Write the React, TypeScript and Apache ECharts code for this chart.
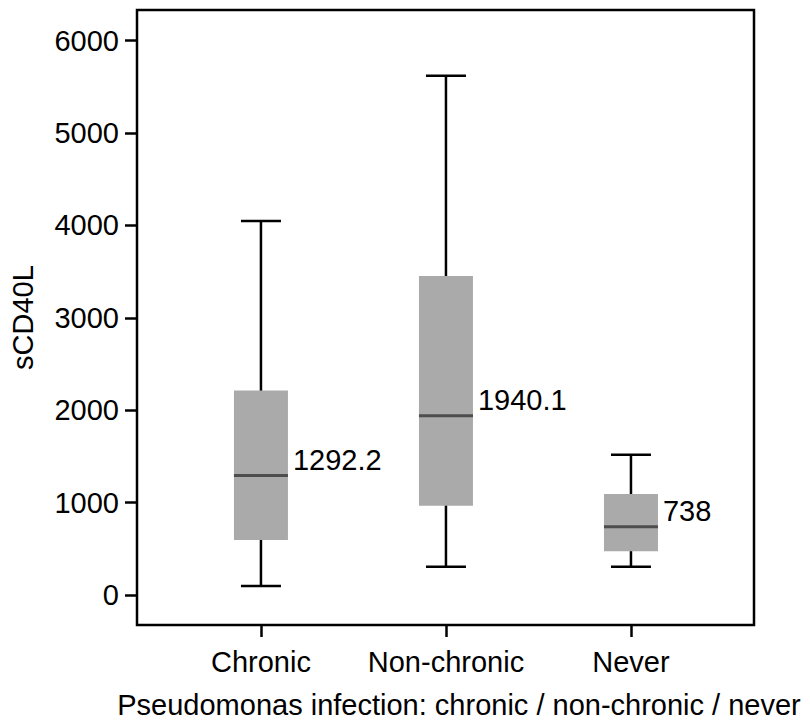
import React, { useEffect, useRef } from "react";
import * as echarts from "echarts";

const categories = ["Chronic", "Non-chronic", "Never"];
const whiskerLow = [97, 306, 306];
const quartile1 = [595, 967, 473];
const medians = [1292.2, 1940.1, 738];
const quartile3 = [2212, 3453, 1093];
const whiskerHigh = [4048, 5621, 1519];
const yTicks = [0, 1000, 2000, 3000, 4000, 5000, 6000];
const xTicks = [0, 1, 2];

const FONT = "'Liberation Sans', Arial, Helvetica, sans-serif";

export default function App() {
  const ref = useRef<HTMLDivElement>(null);
  useEffect(() => {
    if (!ref.current) return;
    const chart = echarts.init(ref.current, null, { renderer: "svg" });
    const data = categories.map((_, i) => [
      i,
      whiskerLow[i],
      quartile1[i],
      medians[i],
      quartile3[i],
      whiskerHigh[i],
    ]);
    const BOX = 54;
    const CAP = 40;
    chart.setOption({
      animation: false,
      backgroundColor: "#ffffff",
      textStyle: { fontFamily: FONT },
      grid: {
        left: 137,
        top: 10,
        right: 56,
        bottom: 99,
        show: true,
        borderColor: "#000",
        borderWidth: 2.5,
        backgroundColor: "transparent",
      },
      xAxis: {
        type: "value",
        position: "bottom",
        min: -0.67,
        max: 2.665,
        splitLine: { show: false },
        axisLine: { show: false, onZero: false },
        axisTick: {
          show: true,
          customValues: xTicks,
          length: 12,
          lineStyle: { color: "#000", width: 2.5 },
        },
        axisLabel: {
          customValues: xTicks,
          formatter: (v: number) => categories[Math.round(v)] ?? "",
          fontSize: 29,
          color: "#000",
          margin: 22,
          fontFamily: FONT,
        },
        name: "Pseudomonas infection: chronic / non-chronic / never",
        nameLocation: "middle",
        nameGap: 65,
        nameTextStyle: {
          fontSize: 29,
          color: "#000",
          fontFamily: FONT,
          padding: [0, 0, 0, 27],
        },
      },
      yAxis: {
        type: "value",
        position: "left",
        min: -325,
        max: 6332,
        splitLine: { show: false },
        axisLine: { show: false, onZero: false },
        axisTick: {
          show: true,
          customValues: yTicks,
          length: 12,
          lineStyle: { color: "#000", width: 2.5 },
        },
        axisLabel: {
          customValues: yTicks,
          formatter: (v: number) => String(v),
          fontSize: 29,
          color: "#000",
          margin: 18,
          fontFamily: FONT,
        },
        name: "sCD40L",
        nameLocation: "middle",
        nameRotate: 90,
        nameGap: 100,
        nameTextStyle: { fontSize: 29, color: "#000", fontFamily: FONT },
      },
      series: [
        {
          type: "custom",
          clip: false,
          data,
          encode: { x: 0, y: [1, 2, 3, 4, 5] },
          renderItem: (params: any, api: any) => {
            const i = api.value(0);
            const lo = api.coord([i, api.value(1)]);
            const q1 = api.coord([i, api.value(2)]);
            const md = api.coord([i, api.value(3)]);
            const q3 = api.coord([i, api.value(4)]);
            const hi = api.coord([i, api.value(5)]);
            const cx = lo[0];
            const lineStyle = { stroke: "#000", lineWidth: 2.5 };
            return {
              type: "group",
              children: [
                {
                  type: "line",
                  shape: { x1: cx, y1: lo[1], x2: cx, y2: hi[1] },
                  style: lineStyle,
                },
                {
                  type: "line",
                  shape: { x1: cx - CAP / 2, y1: lo[1], x2: cx + CAP / 2, y2: lo[1] },
                  style: lineStyle,
                },
                {
                  type: "line",
                  shape: { x1: cx - CAP / 2, y1: hi[1], x2: cx + CAP / 2, y2: hi[1] },
                  style: lineStyle,
                },
                {
                  type: "rect",
                  shape: { x: cx - BOX / 2, y: q3[1], width: BOX, height: q1[1] - q3[1] },
                  style: { fill: "#aaaaaa", stroke: null },
                },
                {
                  type: "line",
                  shape: { x1: cx - BOX / 2, y1: md[1], x2: cx + BOX / 2, y2: md[1] },
                  style: { stroke: "#4d4d4d", lineWidth: 3 },
                },
                {
                  type: "text",
                  x: cx + BOX / 2 + 5,
                  y: md[1] - 16,
                  style: {
                    text: String(medians[i]),
                    fontSize: 29,
                    fontFamily: FONT,
                    fill: "#000",
                    align: "left",
                    verticalAlign: "middle",
                  },
                },
              ],
            };
          },
        },
      ],
    });
    return () => chart.dispose();
  }, []);
  return (
    <div
      ref={ref}
      style={{ position: "fixed", left: 0, top: 0, width: 810, height: 724 }}
    />
  );
}
